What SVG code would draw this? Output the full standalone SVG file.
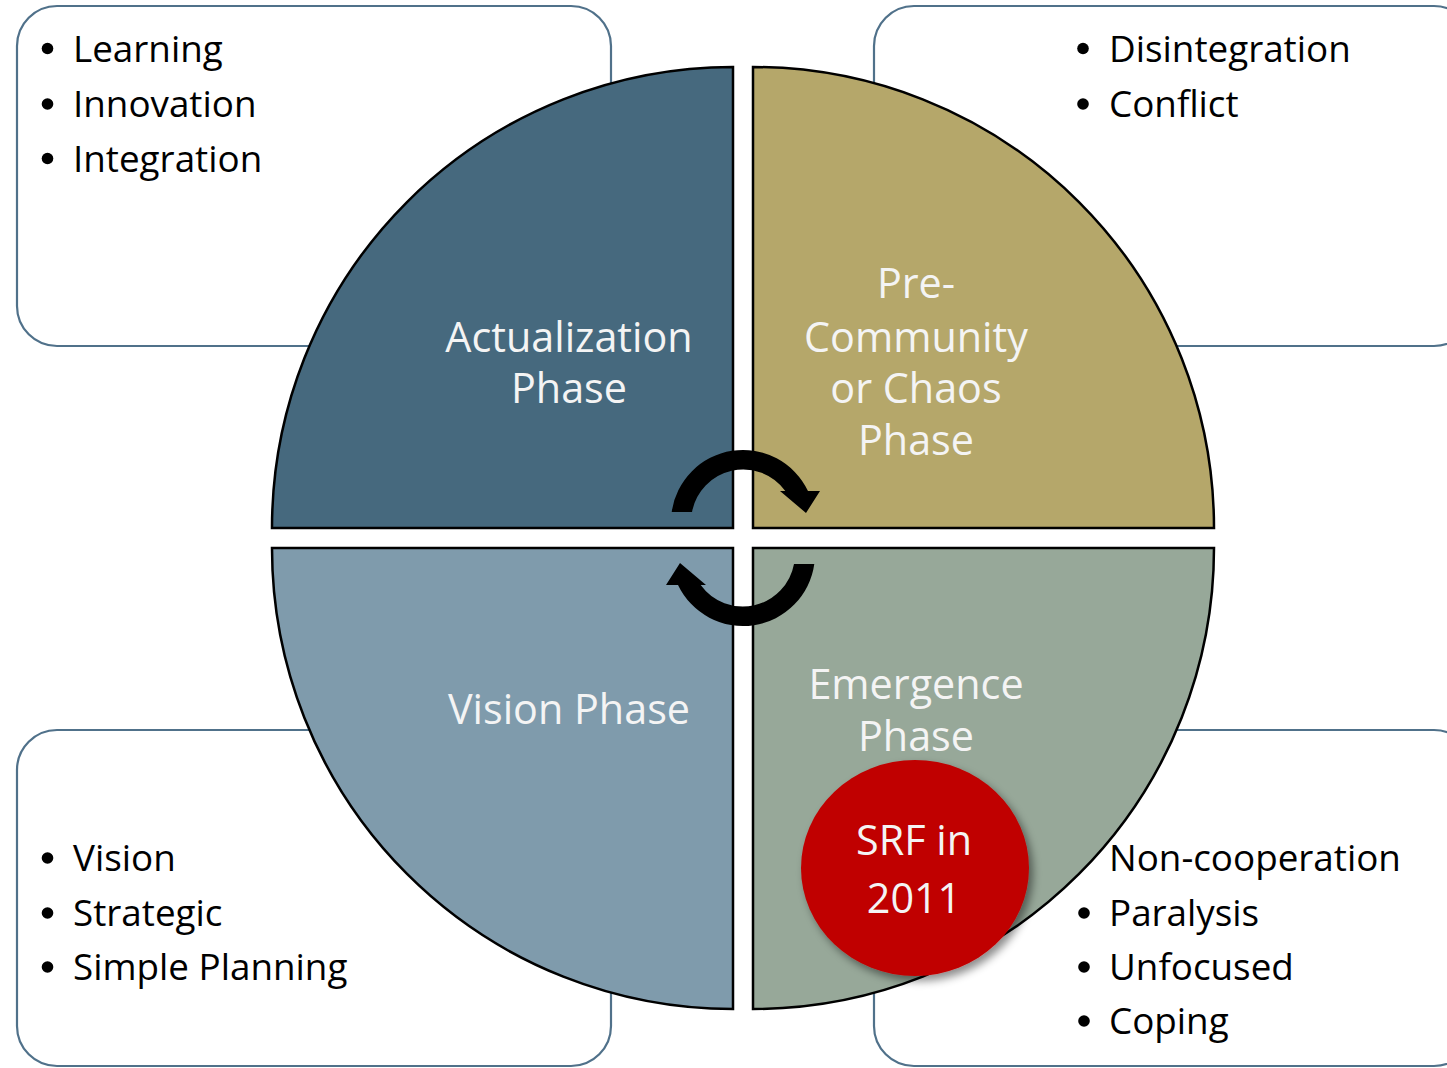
<svg xmlns="http://www.w3.org/2000/svg" width="1447" height="1068" viewBox="0 0 1447 1068">
  <style>
    .box { fill: #FFFFFF; stroke: #50718A; stroke-width: 2.2; }
    .item { font-family: "Open Sans", "Noto Sans", sans-serif; font-size: 36.8px; fill: #000000; }
    .bullet { fill: #000000; }
    .quad { stroke: #000000; stroke-width: 2.5; }
    .label { font-family: "Open Sans", "Noto Sans", sans-serif; font-size: 41.3px; fill: #F4F4F4; text-anchor: middle; }
    .arrow { fill: #000000; }
  </style>
  <defs>
    <filter id="shadow" x="-30%" y="-30%" width="160%" height="160%">
      <feDropShadow dx="4" dy="5" stdDeviation="4" flood-color="#000000" flood-opacity="0.45"/>
    </filter>
  </defs>
  <rect width="1447" height="1068" fill="#FFFFFF"/>

  <g id="box-top-left">
    <rect class="box" x="17" y="6" width="594" height="340" rx="40" ry="40"/>
    <circle class="bullet" cx="47.5" cy="48.5" r="5.8"/>
    <circle class="bullet" cx="47.5" cy="104" r="5.8"/>
    <circle class="bullet" cx="47.5" cy="158.5" r="5.8"/>
    <text class="item" x="73" y="62">Learning</text>
    <text class="item" x="73" y="117">Innovation</text>
    <text class="item" x="73" y="171.5">Integration</text>
  </g>

  <g id="box-top-right">
    <rect class="box" x="874" y="6" width="600" height="340" rx="40" ry="40"/>
    <circle class="bullet" cx="1083" cy="48.5" r="5.8"/>
    <circle class="bullet" cx="1083" cy="104" r="5.8"/>
    <text class="item" x="1109" y="62">Disintegration</text>
    <text class="item" x="1109" y="117">Conflict</text>
  </g>

  <g id="box-bottom-left">
    <rect class="box" x="17" y="730" width="594" height="336" rx="40" ry="40"/>
    <circle class="bullet" cx="47.5" cy="858" r="5.8"/>
    <circle class="bullet" cx="47.5" cy="913" r="5.8"/>
    <circle class="bullet" cx="47.5" cy="967" r="5.8"/>
    <text class="item" x="73" y="871">Vision</text>
    <text class="item" x="73" y="926">Strategic</text>
    <text class="item" x="73" y="980">Simple Planning</text>
  </g>

  <g id="box-bottom-right">
    <rect class="box" x="874" y="730" width="600" height="336" rx="40" ry="40"/>
    <circle class="bullet" cx="1084" cy="858" r="5.8"/>
    <circle class="bullet" cx="1084" cy="913" r="5.8"/>
    <circle class="bullet" cx="1084" cy="967" r="5.8"/>
    <circle class="bullet" cx="1084" cy="1021" r="5.8"/>
    <text class="item" x="1109" y="871">Non-cooperation</text>
    <text class="item" x="1109" y="926">Paralysis</text>
    <text class="item" x="1109" y="980">Unfocused</text>
    <text class="item" x="1109" y="1034">Coping</text>
  </g>

  <g id="actualization-phase">
    <path class="quad" fill="#46697E" d="M 733 528 L 272 528 A 461 461 0 0 1 733 67 Z"/>
    <text class="label" x="569" y="352">Actualization</text>
    <text class="label" x="569" y="403">Phase</text>
  </g>

  <g id="pre-community-phase">
    <path class="quad" fill="#B5A76A" d="M 753 528 L 753 67 A 461 461 0 0 1 1214 528 Z"/>
    <text class="label" x="916" y="298">Pre-</text>
    <text class="label" x="916" y="352">Community</text>
    <text class="label" x="916" y="403">or Chaos</text>
    <text class="label" x="916" y="455">Phase</text>
  </g>

  <g id="vision-phase">
    <path class="quad" fill="#7F9BAC" d="M 733 548 L 733 1009 A 461 461 0 0 1 272 548 Z"/>
    <text class="label" x="569" y="724">Vision Phase</text>
  </g>

  <g id="emergence-phase">
    <path class="quad" fill="#97A899" d="M 753 548 L 1214 548 A 461 461 0 0 1 753 1009 Z"/>
    <text class="label" x="916" y="699">Emergence</text>
    <text class="label" x="916" y="751">Phase</text>
  </g>

  <g id="connectors">
    <path class="arrow" d="M 671.7 512 A 72 72 0 0 1 808 491 L 820 491 L 806 513 L 780 491 L 785.3 491 A 52 52 0 0 0 692 512 Z"/>
    <path class="arrow" transform="rotate(180 743 538)" d="M 671.7 512 A 72 72 0 0 1 808 491 L 820 491 L 806 513 L 780 491 L 785.3 491 A 52 52 0 0 0 692 512 Z"/>
  </g>

  <g id="srf-2011">
    <ellipse cx="915" cy="868" rx="114" ry="108" fill="#C00000" filter="url(#shadow)"/>
    <text class="label" x="914" y="855" fill="#FFFFFF">SRF in</text>
    <text class="label" x="914" y="913" fill="#FFFFFF">2011</text>
  </g>
</svg>
